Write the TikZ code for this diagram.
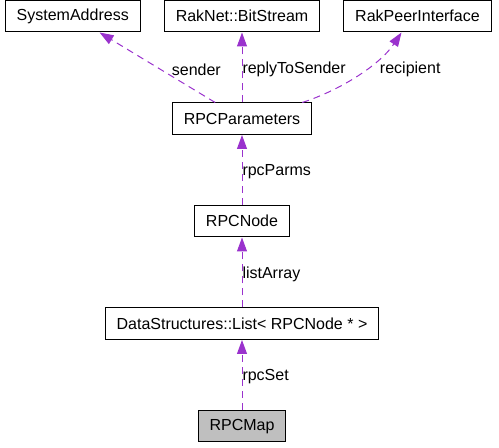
\documentclass[tikz,border=0pt]{standalone}
\usepackage{fontspec}
\setmainfont{Liberation Sans}
\usetikzlibrary{positioning,arrows.meta}
\definecolor{linkpurple}{HTML}{9A32CD}
\definecolor{mapgray}{HTML}{BFBFBF}

\begin{document}
\begin{tikzpicture}[x=1pt,y=1pt,
		classbox/.style={draw=black,line width=1pt,minimum height=31.5pt,inner xsep=11.5pt,inner ysep=2pt,font=\fontsize{16}{19}\selectfont},
		link/.style={draw=linkpurple,line width=1pt,dash pattern=on 7pt off 5pt,-{Triangle[length=14pt,width=10pt]}},
		lbl/.style={anchor=west,inner sep=0pt,yshift=-2pt,font=\fontsize{16}{19}\selectfont}]
		\useasboundingbox (0,0) rectangle (499,448);
		\node[classbox,fill=mapgray]	at (242,21.75)				(7)		{RPCMap};
		\node[classbox,node distance=70pt,above=of 7]				(6)		{DataStructures::List< RPCNode * >};
		\node[classbox,node distance=70pt,above=of 6]				(5)		{RPCNode};
		\node[classbox,node distance=70pt,above=of 5]				(4)		{RPCParameters};
		\node[classbox,node distance=70pt,above=of 4]				(2)		{RakNet::BitStream};
		\node[classbox,node distance=23pt,left=of 2]				(1)		{SystemAddress};
		\node[classbox,node distance=23pt,right=of 2]				(3)		{RakPeerInterface};

		\draw[link] (7) -- node[lbl] {rpcSet} (6);
		\draw[link] (6) -- node[lbl] {listArray} (5);
		\draw[link] (5) -- node[lbl] {rpcParms} (4);
		\draw[link] (4) -- node[lbl] {replyToSender} (2);
		\draw[link] (4) -- node[lbl,xshift=14pt] {sender} (1);
		\draw[link] ([xshift=-10pt]4.north east) .. controls +(37,12) and +(-22,-33) .. node[lbl,xshift=22pt,yshift=8.5pt] {recipient} ([xshift=-16pt]3.south);
	\end{tikzpicture}
\end{document}
